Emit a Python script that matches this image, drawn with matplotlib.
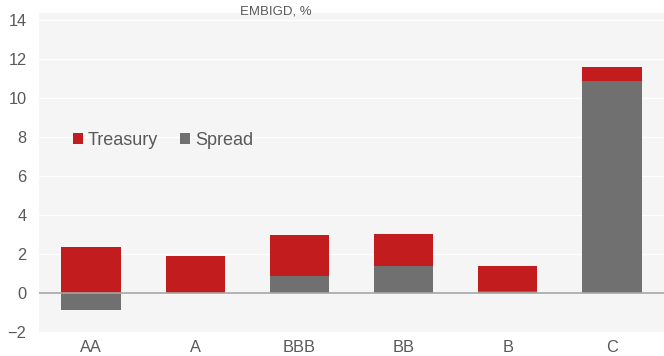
import matplotlib.pyplot as plt
import numpy as np

plt.rcParams['font.family'] = ['Liberation Sans', 'DejaVu Sans']

ratings = ["AA", "A", "BBB", "BB", "B", "C"]
spread = [-0.88, 0.0, 0.85, 1.38, 0.08, 10.88]
treasury = [2.38, 1.92, 2.12, 1.65, 1.30, 0.68]

red = '#c21c1f'
grey = '#707070'
textColor = '#595959'

fig = plt.figure(figsize=(6.64, 3.56), dpi=100)
fig.patch.set_facecolor('white')
ax = fig.add_axes([39/664, 24/356, 625/664, 319/356])
ax.set_facecolor('#f5f5f5')

x = np.arange(len(ratings))
spread = np.array(spread)
treasury = np.array(treasury)
barWidth = 0.57

# spread sits on the zero line, treasury stacks on top of any positive spread
ax.bar(x, spread, width=barWidth, color=grey, label='Spread', zorder=3)
treasuryBase = np.clip(spread, 0, None)
ax.bar(x, treasury, bottom=treasuryBase, width=barWidth, color=red,
    label='Treasury', zorder=3)

ax.axhline(0, color='#a6a6a6', linewidth=1.2, zorder=4)
ax.set_xlim(-0.5, len(ratings) - 0.5)
ax.set_ylim(-2, 14.35)
ax.set_yticks(np.arange(-2, 15, 2))
ax.set_xticks(x)
ax.set_xticklabels(ratings)
ax.yaxis.grid(True, color='white', linewidth=1.0, zorder=0)
ax.set_axisbelow(True)
for spine in ax.spines.values():
    spine.set_visible(False)
ax.tick_params(axis='both', length=0, labelsize=11.8, colors=textColor)
ax.tick_params(axis='y', pad=9)
ax.tick_params(axis='x', pad=6)

handles, labels = ax.get_legend_handles_labels()
ax.legend(handles[::-1], labels[::-1], ncol=2, frameon=False,
    loc='center left', bbox_to_anchor=(0.028, 0.6), fontsize=13,
    handlelength=0.55, handleheight=0.55, handletextpad=0.3,
    columnspacing=1.2, labelcolor=textColor)

fig.text(276/664, 1 - 12/356, "EMBIGD, %", ha='center', va='center',
    fontsize=9.5, color=textColor)

fig.savefig("out.png", dpi=100)
